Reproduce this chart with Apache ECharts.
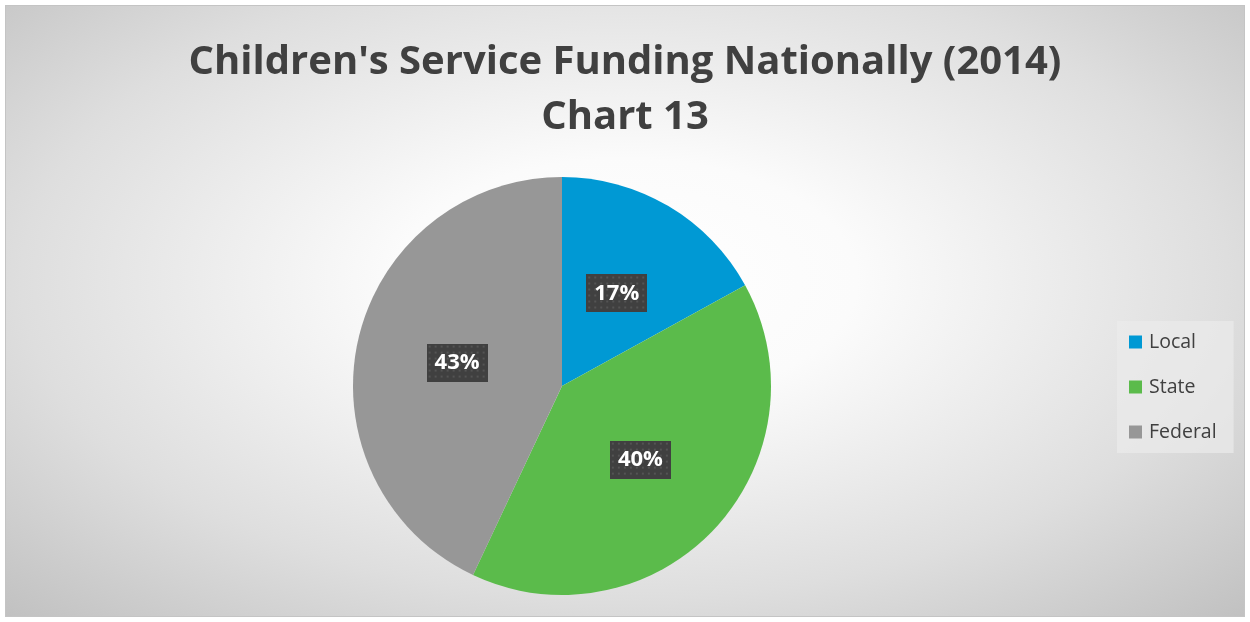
<!DOCTYPE html>
<html>
<head>
<meta charset="utf-8">
<script src="https://cdn.jsdelivr.net/npm/echarts@6/dist/echarts.min.js"></script>
<style>
html,body{margin:0;padding:0;background:#fff;width:1250px;height:622px;overflow:hidden;}
#frame{position:absolute;left:5px;top:5px;width:1240px;height:612px;box-sizing:border-box;border:1px solid #c4c4c4;
background:radial-gradient(ellipse 75% 80% at 50% 45%, #ffffff 0%, #fbfbfb 25%, #dedede 65%, #bdbdbd 100%);}
#chart{position:absolute;left:0;top:0;width:1238px;height:610px;}
</style>
</head>
<body>
<div id="frame"><div id="chart"></div></div>
<script>
const titleLines = ["Children's Service Funding Nationally (2014)", "Chart 13"];
const categories = ["Local", "State", "Federal"];
const values = [17, 40, 43];
const colors = ["#0099D4", "#5BBB4B", "#979797"];

// dotted label background
function makePattern(w, h) {
  const c = document.createElement('canvas');
  c.width = w; c.height = h;
  const ctx = c.getContext('2d');
  ctx.fillStyle = '#404040';
  ctx.fillRect(0, 0, w, h);
  ctx.fillStyle = '#545454';
  for (let y = 2; y < h; y += 6) {
    for (let x = 2; x < w; x += 6) {
      ctx.fillRect(x, y, 2, 2);
    }
  }
  return c;
}
const pat = makePattern(61, 38);

const chart = echarts.init(document.getElementById('chart'));
chart.setOption({
  backgroundColor: 'transparent',
  title: {
    text: titleLines.join('\n'),
    left: 'center',
    top: 24,
    textStyle: {
      fontFamily: 'Open Sans',
      fontWeight: 'bold',
      fontSize: 40,
      lineHeight: 55,
      color: '#404040'
    }
  },
  legend: {
    orient: 'vertical',
    left: 1111,
    top: 315,
    data: categories,
    icon: 'rect',
    itemWidth: 13,
    itemHeight: 13,
    itemGap: 25,
    padding: [11, 17, 11, 12],
    backgroundColor: 'rgba(235,235,235,0.7)',
    textStyle: {
      fontFamily: 'Open Sans',
      fontSize: 19.5,
      lineHeight: 20,
      color: '#404040',
      padding: [0, 0, 0, 2]
    }
  },
  series: [{
    type: 'pie',
    center: [556, 380],
    radius: [0, 209],
    startAngle: 90,
    clockwise: true,
    silent: true,
    data: categories.map((n, i) => ({ name: n, value: values[i], itemStyle: { color: colors[i] } })),
    label: {
      show: true,
      position: 'inside',
      formatter: '{d}%',
      fontFamily: 'Open Sans',
      fontWeight: 'bold',
      fontSize: 22,
      color: '#ffffff',
      width: 61,
      height: 38,
      lineHeight: 38,
      align: 'center',
      verticalAlign: 'middle',
      backgroundColor: { image: pat },
      shadowColor: 'rgba(0,0,0,0.45)',
      shadowBlur: 6,
      shadowOffsetX: 3,
      shadowOffsetY: 3
    },
    labelLine: { show: false },
    emphasis: { disabled: true }
  }]
});
</script>
</body>
</html>
